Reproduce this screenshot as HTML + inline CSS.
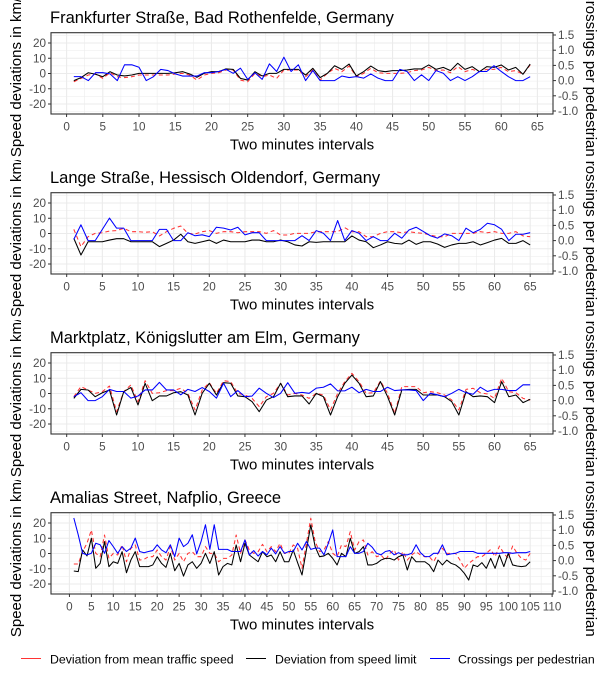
<!DOCTYPE html>
<html><head><meta charset="utf-8"><style>
html,body{margin:0;padding:0;background:#fff;}
svg{display:block;font-family:"Liberation Sans",Arial,sans-serif;}
</style></head><body>
<svg id="chart" width="605" height="677" viewBox="0 0 605 677" xmlns="http://www.w3.org/2000/svg"></svg>
<script>
const titles = ["Frankfurter Straße, Bad Rothenfelde, Germany","Lange Straße, Hessisch Oldendorf, Germany","Marktplatz, Königslutter am Elm, Germany","Amalias Street, Nafplio, Greece"];
const leftTicks = [20,10,0,-10,-20];
const rightTicks = [1.5,1.0,0.5,0.0,-0.5,-1.0];
const rightTickLabels = ["1.5","1.0","0.5","0.0","-0.5","-1.0"];
const xMaxTicks = [65,65,65,110];

const p1Mean = [-5.4,-3.2,-1,-0.3,-3.2,0.5,-2.1,-2.7,-2.1,-1,-1,-1,-1,-1,-0.3,0.1,-1,-4.3,-1,0.1,0.5,2.3,2.3,-4.3,-5.4,0.1,-2.1,-1,-3.2,2.3,2.3,2.3,-2.1,2.3,-4.3,0.1,3.4,1.2,4.9,-2.1,0.1,3.4,0.5,0.1,0.1,0.1,0.5,1.9,2.3,4,1.9,2.3,0.5,4.5,1.2,2.7,1.2,2.7,2.7,4,1.2,1.9,-0.5,5.6];
const p1Limit = [-4.7,-2.7,0.5,-0.5,-2.1,1.2,-1,-1.6,-1,0.1,0.1,0.1,0.1,0.1,0.5,1.2,-0.3,-2.5,0.1,1.2,1.2,3,2.7,-3.2,-4.3,1.2,-1.6,0.1,0.1,2.7,2.7,2.7,-1,3.4,-2.7,0.1,5.1,2.7,6.2,-1.6,1.2,4.9,1.9,1.2,1.9,1.9,2.3,3,3,5.6,2.7,4,1.9,6.7,2.7,4.5,1.2,4.5,4,5.6,2.3,4,-0.5,6.2];
const p1Cross = [0.13,0.13,0,0.26,0.26,0.22,0,0.52,0.52,0.44,0,0.13,0.37,0.33,0.22,0.15,0.15,0.15,0.26,0.26,0.3,0.37,0.24,0.41,0.04,0.26,0.04,0.55,0.3,0.77,0.3,0.52,0,0.33,0,0,0,0.15,0.1,0.13,0.08,0.22,0.08,0,0,0.37,0.3,0,0.19,0,0.33,0.24,0,0.13,0,0.13,0.3,0.3,0.49,0.3,0.13,0,0,0.13];

const p2Mean = [2.7,-8.6,-2.1,0.1,0.5,1.6,1.9,3.4,1.2,1.2,0.8,1.2,-1.6,1.2,3.4,4.9,0.1,-0.3,1.2,1.9,0.1,1.2,1.2,0.5,1.2,1.2,1.2,0.1,1.9,-1,-1,0.1,0.1,0.1,1.2,1.2,1.2,1.2,3.8,1.2,1.2,-2.1,-2.1,0.1,1.2,1.2,0.5,1.2,0.5,0.1,-1,-2.1,-2.1,0.1,0.1,0.1,0.1,1.2,0.5,1.2,0.1,0.1,1.2,-1.6,-2.1];
const p2Limit = [-3.2,-14.1,-5.4,-5.4,-5.4,-4.3,-3.4,-3.4,-5.4,-5.4,-5.4,-5.4,-8.6,-6.5,-4.3,-0.5,-5.4,-6.5,-5.4,-4.3,-6.5,-4.3,-5.4,-5.4,-5.4,-4.3,-4.3,-5.4,-5.4,-4.3,-5.4,-7.5,-8.2,-5.4,-5.8,-5.4,-5.4,-5.4,-5.4,-1.6,-4.3,-5.4,-9.3,-7.5,-5.4,-6.5,-6.9,-4.3,-7.1,-5.4,-5.4,-6.9,-9.1,-7.5,-6.5,-6.5,-5.4,-7.5,-6,-4.3,-3.2,-6.5,-6.5,-4.7,-7.5];
const p2Cross = [0.04,0.52,0,0,0.37,0.74,0.41,0.41,0,0,0,0,0.37,0.37,0,0,0.26,0.16,0.19,0.13,0.44,0.41,0.35,0.44,0.19,0.26,0.26,0,0,0,0,0,0.16,0,0.33,0.24,0,0.66,0,0.33,0.24,0,0.13,0,0,0.24,0.08,0.35,0.44,0.3,0.16,0.08,0.22,0.16,0,0.41,0.26,0.37,0.57,0.52,0.37,0,0.21,0.21,0.26];

const p3Mean = [-2.1,4.5,2.3,0.1,1.2,4.9,-11.9,1.2,5.6,-5.4,8.4,0.1,0.5,1.9,1.9,3.4,0.1,-10.8,2.3,7.1,0.1,8.4,7.8,0.1,-1,-3.2,-8.6,-2.1,0.1,6.7,-1,0.1,-1,-3.2,0.1,-1,-10.8,0.1,7.8,13.2,7.8,0.1,0.5,8.2,0.1,-13,4.5,4.5,4.5,0.5,1.2,0.5,-1,-4.3,-10.8,2.7,3.4,0.5,-0.3,-3.2,10,1.2,0.5,-3.2,-4.3];
const p3Limit = [-3.2,2.7,2.3,-2.1,0.5,2.3,-14.1,1.2,4,-7.5,6.7,-4.7,-1.6,-1.6,0.5,1.2,-1,-14.1,0.1,6.7,-1,7.1,6.7,-1.6,-2.1,-5.4,-11.9,-4.3,-2.1,6.7,-2.1,-1.6,-1.6,-6.9,0.1,-2.1,-14.1,-2.1,6.7,12.1,6.7,-2.1,-1.6,7.8,-2.1,-14.1,2.3,2.7,2.7,-1,-1,-1,-2.1,-5.4,-14.1,1.2,-2.1,-1.6,-2.1,-6,7.8,-2.1,-1,-6,-3.8];
const p3Cross = [0.13,0.26,0,0,0.13,0.37,0.3,0.3,0.08,0.15,0.35,0.35,0.6,0.35,0.35,0.19,0.37,0.3,0.43,0.3,0.08,0.57,0.13,0.33,0.13,0.15,0.41,0.24,0.1,0.24,0.59,0.24,0.27,0.24,0.41,0.44,0.55,0.32,0.32,0.44,0.26,0.37,0.3,0.3,0.44,0.33,0.35,0.35,0.33,0,0.24,0.19,0.13,0.24,0.37,0.26,0.21,0.44,0.3,0.37,0.37,0.33,0.33,0.52,0.52];

const p4Mean = [-6.9,-6.9,1.2,6.7,15.4,0.1,-2.1,12.1,-3.2,0.1,-1,5.6,-5.4,3.4,5.6,-4.3,-3.8,-2.1,-2.1,2.3,-2.1,-4.3,4.5,-4.3,0.1,-5.4,0.1,1.2,-2.1,-2.1,4.5,0.1,0.1,-5.4,-3.2,-3.2,-1,12.1,0.1,8.9,2.3,0.1,1.2,6,1.2,4.5,1.2,6.7,0.1,0.1,5.6,3.4,
 -9.7,6.7,23.1,7.8,1.2,2.3,7.8,0.1,-2.1,5.6,4.5,14.3,2.3,7.8,8.9,-1,1.2,-2.1,-1,-4.3,0.1,2.3,-4.3,1.2,-4.3,-1,1.2,-1,-2.1,-2.1,-5.4,0.1,3.4,0.1,0.1,0.1,-4.3,-9.7,-6.5,-4.3,-2.1,-2.1,0.1,2.7,-2.1,4.9,0.1,-3.2,4.9,0.1,-3.2,-4.3,0.1];
const p4Limit = [-11.5,-11.9,2.3,-1.6,10,-9.7,-6.5,7.8,-8.6,-5.4,-6.5,1.2,-12.6,-4.3,1.2,-8.6,-8.6,-8.6,-7.5,-2.1,-6.5,-9.1,0.1,-11.3,-6.5,-14.8,-7.5,-5.4,-9.7,-6.5,0.1,-6.5,1.2,-14.1,-8.6,-6.5,-7.5,5.6,-5.4,6.7,-1,-3.2,-5.4,1.2,-2.1,-1,-5.4,1.2,-5.4,-5.4,2.3,-6,
 -14.1,2.3,18.7,4.5,-2.1,-1.6,0.1,-3.2,-7.5,0.1,-2.1,10,0.1,1.2,4.5,-7.5,-7.5,-6.5,-4.3,-3.2,-3.2,-4.3,-2.1,-1,-10.8,-2.1,-5.4,-5.4,-5.4,-7.5,-11.9,-4.3,-7.5,-4.3,-6.5,-7.5,-9.7,-13,-17.4,-7.5,-8.6,-6,-9.7,-3.2,-9.7,-1,-8.6,0.1,-7.5,-8.2,-8.6,-8.2,-5.4];
const p4Cross = [1.4,0.85,0.24,0.19,0.24,0.57,0.52,0.24,0.66,0.46,0.24,0.46,0.3,0.41,0.74,0.3,0.26,0.3,0.33,0.52,0.35,0.26,0.52,0.13,0.74,0.46,0.57,0.85,0.22,0.63,1.18,0.37,1.18,0.37,0.37,0.37,0.3,0.3,0.3,0.68,0.19,0.33,0.15,0.3,0.19,0.41,0.22,0.46,0.24,0.3,0.3,0.57,
 0.35,0.63,0.37,0.41,0.41,0.19,0.57,1.01,0.13,0.13,0.13,0.46,0.24,0.24,0.3,0.57,0.44,0.24,0.19,0.3,0.33,0.19,0.26,0.19,0.19,0.24,0.52,0.26,0.13,0.13,0.24,0.24,0.52,0.19,0.22,0.24,0.3,0.3,0.3,0.3,0.24,0.24,0.24,0.24,0.24,0.24,0.26,0.26,0.24,0.26,0.26,0.26,0.3];

const meanSeries = [p1Mean,p2Mean,p3Mean,p4Mean];
const limitSeries = [p1Limit,p2Limit,p3Limit,p4Limit];
const crossSeries = [p1Cross,p2Cross,p3Cross,p4Cross];

const NS = "http://www.w3.org/2000/svg";
const svg = document.getElementById('chart');
function mk(tag, attrs, parent){
  const e = document.createElementNS(NS, tag);
  for (const k in attrs) e.setAttribute(k, attrs[k]);
  (parent||svg).appendChild(e);
  return e;
}
const defs = mk('defs',{});
const L = 51, R = 553, H = 81.3;

for (let k=0;k<4;k++){
  const top = 32.7 + 160*k, bot = top + H;
  const n = meanSeries[k].length;
  const pad = 0.05*(n-1);
  const xmin = 1-pad, xmax = n+pad;
  const xs = v => L + (v-xmin)/(xmax-xmin)*(R-L);
  const yl = v => top + 40.8 - v*1.525;
  const yr = v => top + 47.9 - v*30.4;

  const cp = mk('clipPath',{id:'band'+k}, defs);
  mk('rect',{x:0,y:160*k,width:605,height:160}, cp);

  const g = mk('g',{'clip-path':'url(#band'+k+')'});
  
  

  const t = mk('text',{x:50,y:top-9.5,'font-size':16.5,fill:'#000'}, g);
  t.textContent = titles[k];
  
  

  // grid
  const grid = mk('g',{}, g);
  
  
  for (let v=-25; v<=25; v+=5){
    const y = yl(v); if (y<top||y>bot) continue;
    mk('line',{x1:L,x2:R,y1:y,y2:y,stroke:'#ebebeb','stroke-width': (v%10===0)?1.1:0.55}, grid);
  }
  const xm = xMaxTicks[k];
  for (let v=0; v<=xm+2.5; v+=2.5){
    const x = xs(v); if (x<L||x>R) continue;
    mk('line',{x1:x,x2:x,y1:top,y2:bot,stroke:'#ebebeb','stroke-width': (v%5===0)?1.1:0.55}, grid);
  }

  // series
  const line = (arr, sc, color, dash, name) => {
    const pts = arr.map((v,i)=> xs(i+1).toFixed(2)+','+sc(v).toFixed(2)).join(' ');
    const pl = mk('polyline',{points:pts,fill:'none',stroke:color,'stroke-width':1.05,'stroke-linejoin':'round'}, g);
    if (dash) pl.setAttribute('stroke-dasharray', dash);
    
    
  };
  line(meanSeries[k], yl, '#ff3333', '4,3', 'mean-speed-deviation-line');
  line(limitSeries[k], yl, '#000', null, 'speed-limit-deviation-line');
  line(crossSeries[k], yr, '#0000ff', null, 'crossings-line');

  const border = mk('rect',{x:L,y:top,width:R-L,height:H,fill:'none',stroke:'#333','stroke-width':1.1}, g);
  
  

  // left ticks
  leftTicks.forEach(v=>{
    const y = yl(v);
    mk('line',{x1:L-3,x2:L,y1:y,y2:y,stroke:'#333','stroke-width':1}, g);
    const tt = mk('text',{x:L-5,y:y+4,'font-size':11.7,fill:'#4d4d4d','text-anchor':'end'}, g);
    tt.textContent = v;
    
    
  });
  rightTicks.forEach((v,i)=>{
    const y = yr(v);
    mk('line',{x1:R,x2:R+3,y1:y,y2:y,stroke:'#333','stroke-width':1}, g);
    const tt = mk('text',{x:R+5,y:y+4,'font-size':11.7,fill:'#4d4d4d'}, g);
    tt.textContent = rightTickLabels[i];
    
    
  });
  for (let v=0; v<=xm; v+=5){
    const x = xs(v);
    mk('line',{x1:x,x2:x,y1:bot,y2:bot+3,stroke:'#333','stroke-width':1}, g);
    const tt = mk('text',{x:x,y:bot+16.5,'font-size':11.7,fill:'#4d4d4d','text-anchor':'middle'}, g);
    tt.textContent = v;
    
    
  }
  const xt = mk('text',{x:(L+R)/2,y:bot+35.5,'font-size':15,fill:'#000','text-anchor':'middle'}, g);
  xt.textContent = 'Two minutes intervals';
  
  

  const cy = top + H/2;
  const ylt = mk('text',{x:0,y:0,'font-size':15,fill:'#000','text-anchor':'middle',transform:'translate(21,'+cy+') rotate(-90)'}, g);
  ylt.textContent = 'Speed deviations in km/h';
  
  
  const yrt = mk('text',{x:0,y:0,'font-size':15,fill:'#000','text-anchor':'middle',transform:'translate(586,'+cy+') rotate(90)'}, g);
  yrt.textContent = 'Crossings per pedestrian';
  
  
}

// legend
const lg = mk('g',{});


const legendItems = [["Deviation from mean traffic speed","#ff3333",21,50],["Deviation from speed limit","#000",246,275],["Crossings per pedestrian","#0000ff",430,458]];
legendItems.forEach(it=>{
  const e = mk('g',{}, lg);
  
  
  mk('line',{x1:it[2],x2:it[2]+20,y1:658.5,y2:658.5,stroke:it[1],'stroke-width':1.1}, e);
  const tx = mk('text',{x:it[3],y:663.5,'font-size':12.3,fill:'#000'}, e);
  tx.textContent = it[0];
});
</script>
</body></html>
